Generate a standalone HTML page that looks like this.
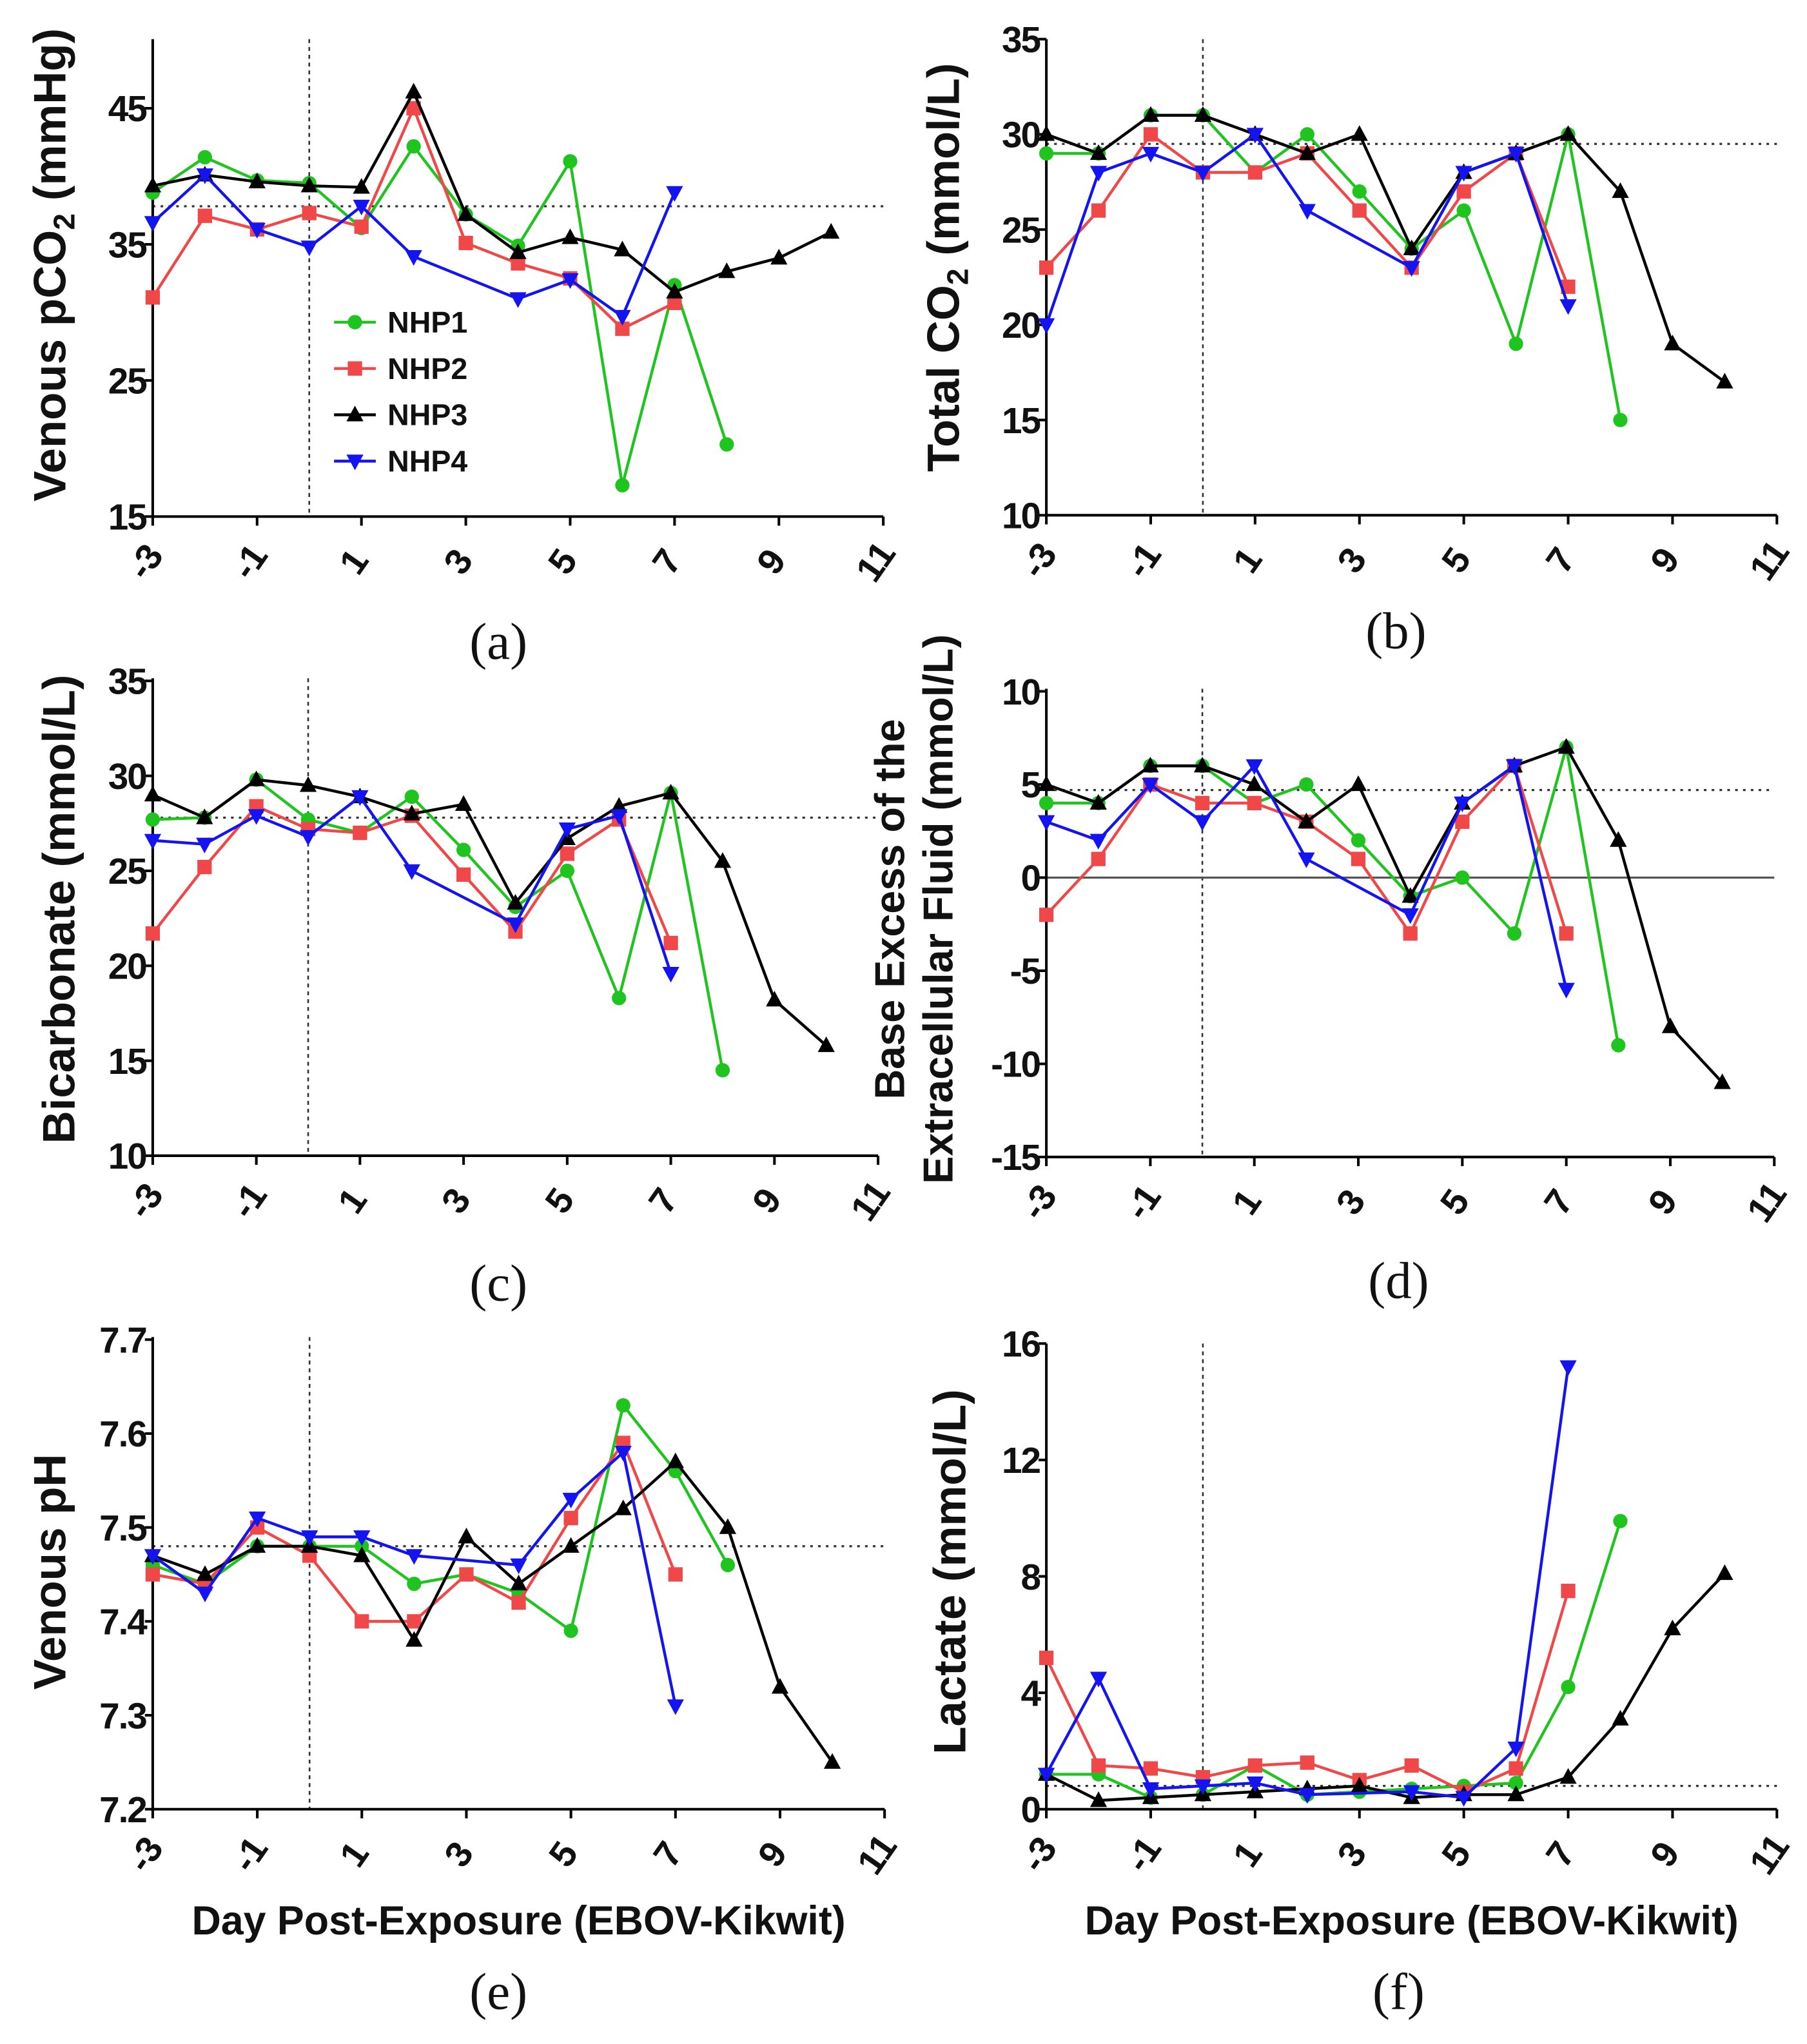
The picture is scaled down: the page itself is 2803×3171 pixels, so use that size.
<!DOCTYPE html>
<html><head><meta charset="utf-8"><style>
html,body{margin:0;padding:0;background:#fff}
svg{display:block}
text{font-family:"Liberation Sans",Arial,sans-serif}
text.serif{font-family:"Liberation Serif",serif}
</style></head><body>
<svg id="fig" width="2803" height="3171" viewBox="0 0 1385 1567" xmlns="http://www.w3.org/2000/svg"></svg>
<script>
const days = [-3,-2,-1,0,1,2,3,4,5,6,7,8,9,10];
const xTicks = [-3,-1,1,3,5,7,9,11];
// (a) Venous pCO2
const aNHP1 = [38.8,41.4,39.7,39.5,36.2,42.2,37.2,34.9,41.1,17.3,32.0,20.3];
const aNHP2 = [31.1,37.1,36.1,37.3,36.3,45.0,35.1,33.6,32.5,28.8,30.7];
const aNHP3 = [39.3,40.1,39.6,39.3,39.2,46.2,37.2,34.4,35.5,34.6,31.5,33.0,34.0,35.9];
const aNHP4 = [36.6,40.1,36.1,34.8,37.8,34.1,null,31.0,32.4,29.7,38.8];
const aTicks = [15,25,35,45];
// (b) Total CO2
const bNHP1 = [29,29,31,31,28,30,27,24,26,19,30,15];
const bNHP2 = [23,26,30,28,28,29,26,23,27,29,22];
const bNHP3 = [30,29,31,31,30,29,30,24,28,29,30,27,19,17];
const bNHP4 = [20,28,29,28,30,26,null,23,28,29,21];
const bTicks = [10,15,20,25,30,35];
// (c) Bicarbonate
const cNHP1 = [27.7,27.8,29.8,27.7,27.0,28.9,26.1,23.1,25.0,18.3,29.1,14.5];
const cNHP2 = [21.7,25.2,28.4,27.2,27.0,27.9,24.8,21.8,25.9,27.7,21.2];
const cNHP3 = [29.0,27.8,29.8,29.5,28.9,28.0,28.5,23.3,26.7,28.4,29.1,25.5,18.2,15.8];
const cNHP4 = [26.6,26.4,27.9,26.8,28.9,25.0,null,22.2,27.2,27.9,19.6];
const cTicks = [10,15,20,25,30,35];
// (d) Base excess
const dNHP1 = [4,4,6,6,4,5,2,-1,0,-3,7,-9];
const dNHP2 = [-2,1,5,4,4,3,1,-3,3,6,-3];
const dNHP3 = [5,4,6,6,5,3,5,-1,4,6,7,2,-8,-11];
const dNHP4 = [3,2,5,3,6,1,null,-2,4,6,-6];
const dTicks = [-15,-10,-5,0,5,10];
// (e) Venous pH
const eNHP1 = [7.46,7.44,7.48,7.48,7.48,7.44,7.45,7.43,7.39,7.63,7.56,7.46];
const eNHP2 = [7.45,7.44,7.50,7.47,7.40,7.40,7.45,7.42,7.51,7.59,7.45];
const eNHP3 = [7.47,7.45,7.48,7.48,7.47,7.38,7.49,7.44,7.48,7.52,7.57,7.50,7.33,7.25];
const eNHP4 = [7.47,7.43,7.51,7.49,7.49,7.47,null,7.46,7.53,7.58,7.31];
const eTicks = [7.2,7.3,7.4,7.5,7.6,7.7];
// (f) Lactate
const fNHP1 = [1.2,1.2,0.4,0.5,1.5,0.5,0.6,0.7,0.8,0.9,4.2,9.9];
const fNHP2 = [5.2,1.5,1.4,1.1,1.5,1.6,1.0,1.5,0.6,1.4,7.5];
const fNHP3 = [1.2,0.3,0.4,0.5,0.6,0.7,0.8,0.4,0.5,0.5,1.1,3.1,6.2,8.1];
const fNHP4 = [1.2,4.5,0.7,0.8,0.9,0.5,null,0.6,0.4,2.1,15.2];
const fTicks = [0,4,8,12,16];

const NS = "http://www.w3.org/2000/svg";
const svg = document.getElementById('fig');
function mk(tag, attrs, parent){const e=document.createElementNS(NS,tag);for(const k in attrs)e.setAttribute(k,attrs[k]);(parent||svg).appendChild(e);return e;}
const colors = ['#1fc41f','#f04848','#000000','#1414f0'];
const shapes = ['circle','square','up','down'];
function marker(g, shape, x, y, c){
  let m;
  if(shape==='circle') m=mk('circle',{cx:x,cy:y,r:5.5,fill:c},g);
  else if(shape==='square') m=mk('rect',{x:x-5.5,y:y-5.5,width:11,height:11,fill:c},g);
  else if(shape==='up') m=mk('polygon',{points:`${x},${y-7} ${x-6.5},${y+5} ${x+6.5},${y+5}`,fill:c},g);
  else m=mk('polygon',{points:`${x},${y+7} ${x-6.5},${y-5} ${x+6.5},${y-5}`,fill:c},g);
  
  
}
function panel(p){
  const g = mk('g',{});
  
  
  const X = d => p.x0 + (d - (-3)) * (p.x1 - p.x0) / 14;
  const Y = v => p.yb + (v - p.ymin) * (p.yt - p.yb) / (p.ymax - p.ymin);
  const vl = mk('line',{x1:X(0),x2:X(0),y1:p.top,y2:p.yb,stroke:'#333','stroke-width':1.3,'stroke-dasharray':'3,3'},g);
   
  const hl = mk('line',{x1:p.x0,x2:p.x1,y1:Y(p.ref),y2:Y(p.ref),stroke:'#333','stroke-width':1.6,'stroke-dasharray':'2,4'},g);
   
  if(p.zero){const z=mk('line',{x1:p.x0,x2:p.x1,y1:Y(0),y2:Y(0),stroke:'#555','stroke-width':1.6},g);
     }
  const ya = mk('line',{x1:p.x0,x2:p.x0,y1:p.top,y2:p.yb,stroke:'#000','stroke-width':2},g);
   
  const xa = mk('line',{x1:p.x0,x2:p.x1,y1:p.yb,y2:p.yb,stroke:'#000','stroke-width':2},g);
   
  p.ticks.forEach(t=>{
    mk('line',{x1:p.x0-6,x2:p.x0,y1:Y(t),y2:Y(t),stroke:'#000','stroke-width':2},g);
    const tx = mk('text',{x:p.x0-5,y:Y(t)+10,'text-anchor':'end','font-size':28,'font-weight':'bold',fill:'#111','letter-spacing':'-1'},g);
    tx.textContent = p.dec ? t.toFixed(1) : t;
     
  });
  xTicks.forEach(t=>{
    mk('line',{x1:X(t),x2:X(t),y1:p.yb,y2:p.yb+7,stroke:'#000','stroke-width':2},g);
    const tx = mk('text',{x:0,y:0,'text-anchor':'middle','font-size':28,'font-weight':'bold',fill:'#111',
      transform:`translate(${X(t)+2},${p.yb+40}) rotate(-55)`},g);
    tx.textContent = t;
     
  });
  p.series.forEach((s,i)=>{
    const sg = mk('g',{},g);
    
    
    const pts = [];
    s.forEach((v,j)=>{ if(v!==null) pts.push([X(days[j]),Y(v)]); });
    mk('polyline',{points:pts.map(q=>q.join(',')).join(' '),fill:'none',stroke:colors[i],'stroke-width':2.2,'stroke-linejoin':'round'},sg);
    pts.forEach(q=>marker(sg,shapes[i],q[0],q[1],colors[i]));
  });
  p.ytitle.forEach((line,k)=>{
    const t = mk('text',{x:0,y:0,'text-anchor':'middle','font-size':p.yfs,'font-weight':'bold',fill:'#111',
      transform:`translate(${p.ytx[k]},${p.yty}) rotate(-90)`},g);
    t.innerHTML = line;
     
  });
  if(p.xtitle){
    const t = mk('text',{x:(p.x0+p.x1)/2,y:p.yb+96,'text-anchor':'middle','font-size':31,'font-weight':'bold',fill:'#111'},g);
    t.textContent='Day Post-Exposure (EBOV-Kikwit)';
     
  }
  const lb = mk('text',{x:p.lx,y:p.ly,'text-anchor':'middle','font-size':40,fill:'#111','class':'serif'},g);
  lb.textContent=p.label;
   
}
panel({name:'panel-a-venous-pco2',x0:117,x1:677,yb:396,yt:83,ymin:15,ymax:45,top:30,ref:37.8,ticks:aTicks,yfs:35,
  series:[aNHP1,aNHP2,aNHP3,aNHP4],ytitle:['Venous pCO<tspan font-size="23" dy="7">2</tspan><tspan dy="-7"> (mmHg)</tspan>'],ytx:[50],yty:203,lx:382,ly:505,label:'(a)'});
panel({name:'panel-b-total-co2',x0:802,x1:1362,yb:395,yt:30,ymin:10,ymax:35,top:30,ref:29.5,ticks:bTicks,yfs:35,
  series:[bNHP1,bNHP2,bNHP3,bNHP4],ytitle:['Total CO<tspan font-size="23" dy="7">2</tspan><tspan dy="-7"> (mmol/L)</tspan>'],ytx:[735],yty:205,lx:1070,ly:497,label:'(b)'});
panel({name:'panel-c-bicarbonate',x0:117,x1:673,yb:886,yt:522,ymin:10,ymax:35,top:520,ref:27.8,ticks:cTicks,yfs:35,
  series:[cNHP1,cNHP2,cNHP3,cNHP4],ytitle:['Bicarbonate (mmol/L)'],ytx:[57],yty:697,lx:382,ly:997,label:'(c)'});
panel({name:'panel-d-base-excess',x0:802,x1:1360,yb:887,yt:530,ymin:-15,ymax:10,top:528,ref:4.7,zero:true,ticks:dTicks,yfs:32,
  series:[dNHP1,dNHP2,dNHP3,dNHP4],ytitle:['Base Excess of the','Extracellular Fluid (mmol/L)'],ytx:[693,730],yty:697,lx:1072,ly:995,label:'(d)'});
panel({name:'panel-e-venous-ph',x0:117,x1:678,yb:1387,yt:1027,ymin:7.2,ymax:7.7,top:1025,ref:7.48,ticks:eTicks,yfs:35,dec:true,
  series:[eNHP1,eNHP2,eNHP3,eNHP4],ytitle:['Venous pH'],ytx:[50],yty:1205,xtitle:true,lx:382,ly:1540,label:'(e)'});
panel({name:'panel-f-lactate',x0:802,x1:1362,yb:1387,yt:1030,ymin:0,ymax:16,top:1030,ref:0.8,ticks:fTicks,yfs:35,
  series:[fNHP1,fNHP2,fNHP3,fNHP4],ytitle:['Lactate (mmol/L)'],ytx:[740],yty:1205,xtitle:true,lx:1072,ly:1540,label:'(f)'});
const legend = mk('g',{});


['NHP1','NHP2','NHP3','NHP4'].forEach((n,i)=>{
  const y = 247 + i*35.5;
  const eg = mk('g',{},legend);
  
  
  mk('line',{x1:256,x2:288,y1:y,y2:y,stroke:colors[i],'stroke-width':2.2},eg);
  marker(eg,shapes[i],272,y,colors[i]);
  const t = mk('text',{x:297,y:y+8,'font-size':23,'font-weight':'bold',fill:'#111'},eg);
  t.textContent = n;
});
</script>
</body></html>
